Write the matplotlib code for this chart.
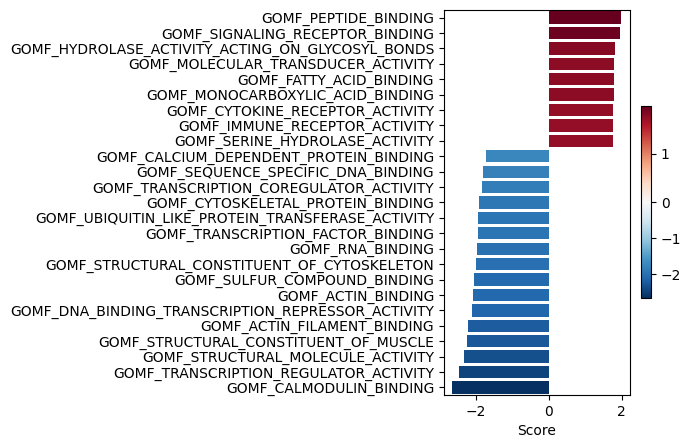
import matplotlib.pyplot as plt
from matplotlib.colors import TwoSlopeNorm
from matplotlib.cm import ScalarMappable

terms = [
    "GOMF_PEPTIDE_BINDING",
    "GOMF_SIGNALING_RECEPTOR_BINDING",
    "GOMF_HYDROLASE_ACTIVITY_ACTING_ON_GLYCOSYL_BONDS",
    "GOMF_MOLECULAR_TRANSDUCER_ACTIVITY",
    "GOMF_FATTY_ACID_BINDING",
    "GOMF_MONOCARBOXYLIC_ACID_BINDING",
    "GOMF_CYTOKINE_RECEPTOR_ACTIVITY",
    "GOMF_IMMUNE_RECEPTOR_ACTIVITY",
    "GOMF_SERINE_HYDROLASE_ACTIVITY",
    "GOMF_CALCIUM_DEPENDENT_PROTEIN_BINDING",
    "GOMF_SEQUENCE_SPECIFIC_DNA_BINDING",
    "GOMF_TRANSCRIPTION_COREGULATOR_ACTIVITY",
    "GOMF_CYTOSKELETAL_PROTEIN_BINDING",
    "GOMF_UBIQUITIN_LIKE_PROTEIN_TRANSFERASE_ACTIVITY",
    "GOMF_TRANSCRIPTION_FACTOR_BINDING",
    "GOMF_RNA_BINDING",
    "GOMF_STRUCTURAL_CONSTITUENT_OF_CYTOSKELETON",
    "GOMF_SULFUR_COMPOUND_BINDING",
    "GOMF_ACTIN_BINDING",
    "GOMF_DNA_BINDING_TRANSCRIPTION_REPRESSOR_ACTIVITY",
    "GOMF_ACTIN_FILAMENT_BINDING",
    "GOMF_STRUCTURAL_CONSTITUENT_OF_MUSCLE",
    "GOMF_STRUCTURAL_MOLECULE_ACTIVITY",
    "GOMF_TRANSCRIPTION_REGULATOR_ACTIVITY",
    "GOMF_CALMODULIN_BINDING",
]
scores = [
    1.99, 1.95, 1.81, 1.78, 1.78, 1.78, 1.75, 1.75, 1.75,
    -1.72, -1.80, -1.83, -1.91, -1.94, -1.94, -1.97, -1.99,
    -2.05, -2.08, -2.10, -2.21, -2.24, -2.32, -2.46, -2.65,
]

norm = TwoSlopeNorm(vmin=min(scores), vcenter=0, vmax=max(scores))
cmap = plt.get_cmap("RdBu_r")

fig = plt.figure(figsize=(6.91, 4.48), dpi=100)
ax = fig.add_axes([0.6425, 0.118, 0.269, 0.86])
ypos = list(range(len(terms)))
ax.barh(ypos, scores, color=[cmap(norm(s)) for s in scores])
ax.set_yticks(ypos)
ax.set_yticklabels(terms)
ax.set_ylim(len(terms) - 0.5, -0.5)
ax.set_xlabel("Score")

cax = fig.add_axes([641 / 691, 150 / 448, 10 / 691, 192 / 448])
sm = ScalarMappable(norm=norm, cmap=cmap)
cb = fig.colorbar(sm, cax=cax)
cb.set_ticks([-2, -1, 0, 1])

plt.savefig("out.png")
plt.close()
